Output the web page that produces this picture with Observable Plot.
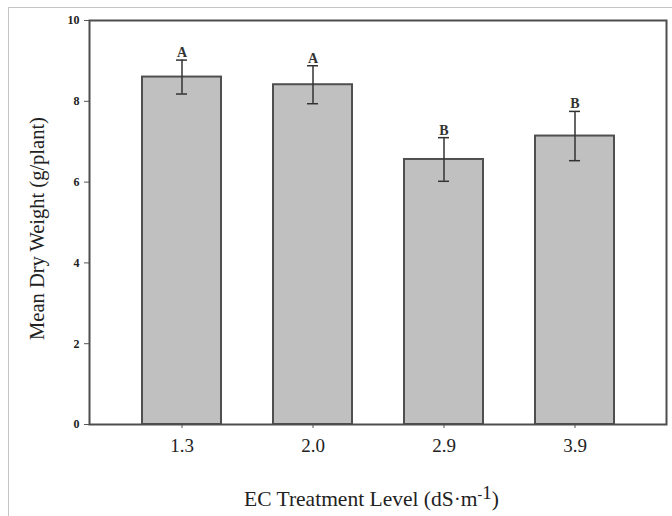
<!DOCTYPE html>
<html><head><meta charset="utf-8">
<script src="https://cdn.jsdelivr.net/npm/d3@7"></script>
<script src="https://cdn.jsdelivr.net/npm/@observablehq/plot@0.6"></script>
<style>
html,body{margin:0;padding:0;background:#fff;}
#wrap{position:relative;width:672px;height:516px;overflow:hidden;}
#border{position:absolute;left:8px;top:7px;width:700px;height:600px;border:1px solid #c4c4c4;pointer-events:none;}
</style></head><body>
<div id="wrap"><div id="chart"></div><div id="border"></div></div>
<script>
const levels = ["1.3", "2.0", "2.9", "3.9"];
const means = [8.6, 8.41, 6.56, 7.14];
const errors = [0.42, 0.47, 0.54, 0.61];
const groups = ["A", "A", "B", "B"];
const yTicks = [0, 2, 4, 6, 8, 10];
const yTitle = "Mean Dry Weight (g/plant)";
const xTitle = "EC Treatment Level (dS·m";
const xTitleSup = "-1";

const data = levels.map((l, i) => ({
  level: l, mean: means[i], lo: means[i] - errors[i], hi: means[i] + errors[i], group: groups[i]
}));
const serif = "'Liberation Serif','Times New Roman',serif";

const plot = Plot.plot({
  width: 672, height: 516,
  marginLeft: 89, marginRight: 6, marginTop: 20, marginBottom: 92,
  style: {fontFamily: serif, background: "transparent", color: "#222"},
  x: {domain: levels, paddingInner: 0.4, paddingOuter: 0.4},
  y: {domain: [0, 10]},
  marks: [
    Plot.barY(data, {x: "level", y: "mean", fill: "#c0c0c0", stroke: "#4f4f4f", strokeWidth: 2}),
    Plot.ruleX(data, {x: "level", y1: "lo", y2: "hi", stroke: "#333", strokeWidth: 1.5}),
    Plot.tickY(data, {x: "level", y: "lo", stroke: "#333", strokeWidth: 1.5, insetLeft: 34, insetRight: 34}),
    Plot.tickY(data, {x: "level", y: "hi", stroke: "#333", strokeWidth: 1.5, insetLeft: 34, insetRight: 34}),
    Plot.text(data, {x: "level", y: "hi", text: "group", lineAnchor: "bottom", dy: -3, fontSize: 14, fontWeight: "bold", fontFamily: serif, fill: "#333"}),
    Plot.axisY({ticks: yTicks, tickSize: 5, tickPadding: 5, fontSize: 12, fontWeight: "bold", fontFamily: serif, fontVariant: "normal", label: null, stroke: "#555"}),
    Plot.axisX({tickSize: 4, tickPadding: 10, fontSize: 19, fontFamily: serif, fontVariant: "normal", label: null, stroke: "#555"}),
    Plot.frame({stroke: "#4d4d4d", strokeWidth: 2}),
    Plot.text([yTitle], {frameAnchor: "left", textAnchor: "middle", dx: -52, dy: 6, rotate: -90, fontSize: 20.5, fontFamily: serif, fill: "#222"})
  ]
});
document.getElementById("chart").appendChild(plot);

const xr = plot.scale("x").range;
const svg = d3.select(plot);
const t = svg.append("text")
  .attr("x", (xr[0] + xr[1]) / 2 - 6)
  .attr("y", 506)
  .attr("text-anchor", "middle")
  .attr("font-family", serif)
  .attr("font-size", 21.5)
  .attr("fill", "#222");
t.append("tspan").text(xTitle);
t.append("tspan").attr("dy", -7).attr("font-size", 14).text(xTitleSup.charAt(0));
t.append("tspan").attr("font-size", 19).text(xTitleSup.slice(1));
t.append("tspan").attr("dy", 7).text(")");
</script>
</body></html>
